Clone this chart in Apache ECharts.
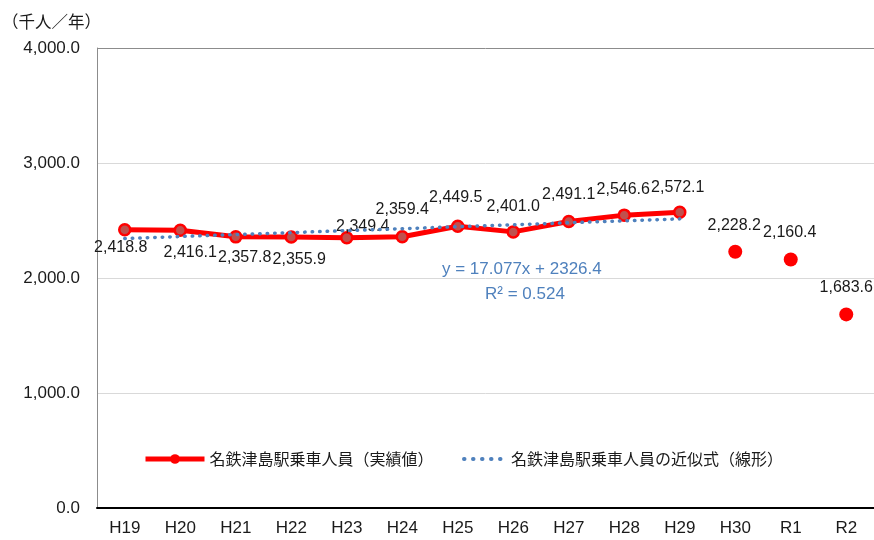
<!DOCTYPE html>
<html>
<head>
<meta charset="utf-8">
<script src="https://cdn.jsdelivr.net/npm/echarts@6/dist/echarts.min.js"></script>
<style>
  html, body { margin: 0; padding: 0; background: #ffffff; }
  #chart { width: 874px; height: 540px; }
</style>
</head>
<body>
<div id="chart"></div>
<script>
// Fiscal years (Heisei / Reiwa)
const categories = ['H19', 'H20', 'H21', 'H22', 'H23', 'H24', 'H25', 'H26', 'H27', 'H28', 'H29', 'H30', 'R1', 'R2'];

// Boardings at Meitetsu Tsushima station, thousand persons per year
const actualValues = [2418.8, 2416.1, 2357.8, 2355.9, 2349.4, 2359.4, 2449.5, 2401.0, 2491.1, 2546.6, 2572.1];
const recentValues = [2228.2, 2160.4, 1683.6];

// Linear trend over H19–H29 (y = 17.077x + 2326.4)
const trendValues = [2343.5, 2360.6, 2377.6, 2394.7, 2411.8, 2428.9, 2445.9, 2463.0, 2480.1, 2497.2, 2514.2];

const yTicks = [0, 1000, 2000, 3000, 4000];

// Label offsets (dx, dy) from each point
const actualLabelOffsets = [[-4, 18], [10, 22], [9, 21], [8, 23], [16, -11], [0, -27], [-2, -29], [0, -25], [0, -27], [-1, -26], [-2, -25]];
const recentLabelOffsets = [[-1, -26], [-1, -27], [0, -27]];

const fmt = v => Number(v).toLocaleString('en-US', { minimumFractionDigits: 1, maximumFractionDigits: 1 });

const LATIN = '"Liberation Sans", Arial, sans-serif';
const CJK = '"Noto Sans CJK JP", "Noto Sans", sans-serif';

const padTail = (arr, n) => arr.concat(new Array(n - arr.length).fill(null));
const padHead = (arr, n) => new Array(n - arr.length).fill(null).concat(arr);

const actualData = padTail(actualValues.map((v, i) => ({
  value: v,
  label: { offset: actualLabelOffsets[i] }
})), categories.length);

const recentData = padHead(recentValues.map((v, i) => ({
  value: v,
  label: { offset: recentLabelOffsets[i] }
})), categories.length);

const trendData = padTail(trendValues, categories.length);

const labelStyle = {
  show: true,
  position: 'inside',
  align: 'center',
  verticalAlign: 'middle',
  color: '#1a1a1a',
  fontSize: 16,
  fontFamily: LATIN,
  formatter: p => fmt(p.value)
};

const chart = echarts.init(document.getElementById('chart'), null, { renderer: 'canvas' });

chart.setOption({
  backgroundColor: '#ffffff',
  animation: false,
  title: {
    text: '（千人／年）',
    left: 2,
    top: 13,
    padding: 0,
    textStyle: { fontSize: 16.5, fontWeight: 'normal', color: '#1a1a1a', fontFamily: CJK }
  },
  grid: { left: 97, right: 0, top: 48, bottom: 32 },
  xAxis: {
    type: 'category',
    data: categories,
    boundaryGap: true,
    axisLine: { show: true, lineStyle: { color: '#000000', width: 2 } },
    axisTick: { show: false },
    axisLabel: { color: '#1a1a1a', fontSize: 17, fontFamily: LATIN, margin: 12 },
    splitLine: { show: false }
  },
  yAxis: {
    type: 'value',
    min: yTicks[0],
    max: yTicks[yTicks.length - 1],
    interval: yTicks[1] - yTicks[0],
    axisLine: { show: true, lineStyle: { color: '#8c8c8c', width: 1 } },
    axisTick: { show: false },
    axisLabel: { color: '#1a1a1a', fontSize: 17, fontFamily: LATIN, margin: 17, formatter: v => fmt(v) },
    splitLine: {
      show: true,
      lineStyle: { color: ['#d9d9d9', '#d9d9d9', '#d9d9d9', '#d9d9d9', '#8c8c8c'], width: 1 }
    }
  },
  legend: [
    {
      data: ['名鉄津島駅乗車人員（実績値）'],
      left: 143,
      top: 451,
      padding: 0,
      itemWidth: 59,
      itemHeight: 12,
      itemStyle: { color: '#ff0000', borderWidth: 0 },
      lineStyle: { width: 5 },
      textStyle: { fontSize: 16, color: '#1a1a1a', fontFamily: CJK }
    },
    {
      data: ['名鉄津島駅乗車人員の近似式（線形）'],
      left: 462,
      top: 451,
      padding: 0,
      itemWidth: 42,
      itemHeight: 12,
      itemStyle: { color: 'rgba(0,0,0,0)', borderWidth: 0, opacity: 0 },
      lineStyle: { width: 4, type: [0.5, 8.5], cap: 'round' },
      textStyle: { fontSize: 16, color: '#1a1a1a', fontFamily: CJK }
    }
  ],
  graphic: [
    {
      type: 'text',
      left: 442,
      top: 261,
      style: { text: 'y = 17.077x + 2326.4', fill: '#4f81bd', fontSize: 17, fontFamily: LATIN }
    },
    {
      type: 'text',
      left: 485,
      top: 286,
      style: { text: 'R² = 0.524', fill: '#4f81bd', fontSize: 17, fontFamily: LATIN }
    }
  ],
  series: [
    {
      name: '名鉄津島駅乗車人員（実績値）',
      type: 'line',
      data: actualData,
      connectNulls: false,
      symbol: 'circle',
      symbolSize: 11,
      lineStyle: { color: '#ff0000', width: 5 },
      itemStyle: { color: '#c0504d', borderColor: '#ff0000', borderWidth: 2.5 },
      label: labelStyle,
      z: 2
    },
    {
      name: '直近実績',
      type: 'scatter',
      data: recentData,
      symbol: 'circle',
      symbolSize: 14,
      itemStyle: { color: '#ff0000', opacity: 1 },
      label: labelStyle,
      z: 2
    },
    {
      name: '名鉄津島駅乗車人員の近似式（線形）',
      type: 'line',
      data: trendData,
      symbol: 'none',
      lineStyle: { color: '#4f81bd', width: 3.5, type: [0.5, 7], cap: 'round' },
      label: { show: false },
      z: 3
    }
  ]
});
</script>
</body>
</html>
